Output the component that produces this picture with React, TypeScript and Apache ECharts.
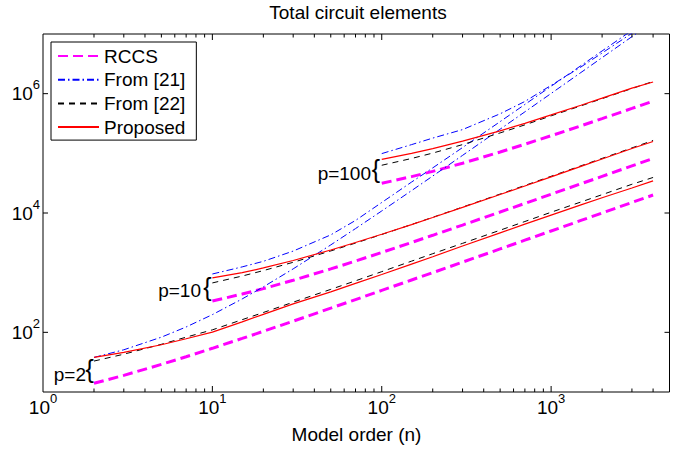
import React, { useEffect, useRef } from 'react';
import * as echarts from 'echarts';

const FONT = '"Liberation Sans", Arial, Helvetica, sans-serif';

// Model orders (n) for each pole-count group
const nP2 = [2, 3, 5, 7, 10, 15, 20, 30, 50, 70, 100, 150, 200, 300, 500, 700, 1000, 1500, 2000, 3000, 4000];
const nP10 = [10, 15, 20, 30, 50, 70, 100, 150, 200, 300, 500, 700, 1000, 1500, 2000, 3000, 4000];
const nP100 = [100, 150, 200, 300, 500, 700, 1000, 1500, 2000, 3000, 4000];

// RCCS
const rccsP2 = [14, 19, 29, 39, 54, 79, 104, 154, 254, 354, 504, 754, 1000, 1500, 2500, 3500, 5000, 7500, 10000, 15000, 20000];
const rccsP10 = [335, 438, 540, 745, 1155, 1565, 2180, 3205, 4230, 6280, 10380, 14480, 20630, 30880, 41130, 61630, 82130];
const rccsP100 = [31500, 40700, 49900, 68300, 105200, 142000, 197300, 289400, 381500, 565700, 750000];

// From [21]
const ref21P2 = [38, 51, 83, 123, 198, 363, 578, 1158, 2918, 5478, 10820, 23720, 41620, 92420, 254000, 495600, 1008000, 2262000, 4016000, 9024000, 16030000];
const ref21P10 = [950, 1250, 1550, 2300, 4300, 7500, 15000, 33000, 57000, 125000, 340000, 660000, 1330000, 2950000, 5200000, 11500000, 20000000];
const ref21P100 = [99000, 140000, 180000, 250000, 460000, 740000, 1380000, 2800000, 4800000, 10300000, 18000000];

// From [22]
const ref22P2 = [33, 43, 63, 83, 110, 163, 215, 320, 525, 730, 1040, 1560, 2080, 3100, 5150, 7200, 10300, 15300, 20300, 30300, 39400];
const ref22P10 = [673, 878, 1083, 1493, 2313, 3133, 4363, 6413, 8463, 12560, 20760, 28960, 41260, 61760, 82260, 123300, 164300];
const ref22P100 = [63100, 82000, 101000, 140000, 220000, 300000, 425000, 625000, 825000, 1220000, 1600000];

// Proposed
const propP2 = [38, 46, 62, 78, 101, 150, 200, 300, 476, 660, 931, 1390, 1850, 2800, 4650, 6500, 9200, 13700, 18000, 26200, 34500];
const propP10 = [816, 1000, 1200, 1600, 2400, 3200, 4400, 6400, 8400, 12400, 20400, 28400, 40400, 60400, 80400, 120400, 158000];
const propP100 = [79400, 100000, 120000, 160000, 238000, 318000, 440000, 640000, 840000, 1240000, 1570000];

// Axis ticks
const xMajorTicks = [10, 100, 1000];
const xMinorTicks = [2, 3, 4, 5, 6, 7, 8, 9, 20, 30, 40, 50, 60, 70, 80, 90, 200, 300, 400, 500, 600, 700, 800, 900, 2000, 3000, 4000];
const yMajorTicks = [100, 10000, 1000000];

const X_MIN = 1;
const X_MAX = 5000;
const Y_MIN = 10;
const Y_MAX = 10000000;

const legendNames = ['RCCS', 'From [21]', 'From [22]', 'Proposed'];

const styles: Record<string, { color: string; width: number; type: any }> = {
  'RCCS': { color: '#ff00ff', width: 3, type: [10, 5] },
  'From [21]': { color: '#0000ff', width: 1, type: [7, 3, 1.5, 3] },
  'From [22]': { color: '#000000', width: 1, type: [6, 5] },
  'Proposed': { color: '#ff0000', width: 1.2, type: 'solid' },
};

function pairs(ns: number[], vs: number[]) {
  return ns.map((n, i) => [n, vs[i]]);
}

function lineSeries(name: string, ns: number[], vs: number[], z: number) {
  const s = styles[name];
  return {
    type: 'line',
    name,
    data: pairs(ns, vs),
    symbol: 'none',
    showSymbol: false,
    silent: true,
    z,
    lineStyle: { color: s.color, width: s.width, type: s.type },
    itemStyle: { color: s.color },
  };
}

export default function App() {
  const ref = useRef<HTMLDivElement>(null);

  useEffect(() => {
    if (!ref.current) return;
    const chart = echarts.init(ref.current, null, { renderer: 'svg' });

    const groups = [
      { ns: nP2, r: rccsP2, a: ref21P2, b: ref22P2, p: propP2 },
      { ns: nP10, r: rccsP10, a: ref21P10, b: ref22P10, p: propP10 },
      { ns: nP100, r: rccsP100, a: ref21P100, b: ref22P100, p: propP100 },
    ];
    const series: any[] = [];
    groups.forEach((g) => {
      series.push(lineSeries('RCCS', g.ns, g.r, 2));
      series.push(lineSeries('From [21]', g.ns, g.a, 3));
      series.push(lineSeries('From [22]', g.ns, g.b, 4));
      series.push(lineSeries('Proposed', g.ns, g.p, 5));
    });

    const xTickData = [
      ...xMajorTicks.map((v) => [v, Y_MIN, 1]),
      ...xMinorTicks.map((v) => [v, Y_MIN, 0]),
    ];
    series.push({
      type: 'custom',
      silent: true,
      clip: false,
      z: 20,
      dimensions: ['x', 'y', 'major'],
      encode: { x: 0, y: 1 },
      data: xTickData,
      renderItem: (params: any, api: any) => {
        const v = api.value(0);
        const major = api.value(2);
        const b = api.coord([v, Y_MIN]);
        const t = api.coord([v, Y_MAX]);
        const len = major ? 6 : 3.5;
        return {
          type: 'group',
          children: [
            { type: 'line', shape: { x1: b[0], y1: b[1], x2: b[0], y2: b[1] - len }, style: { stroke: '#000', lineWidth: 1 } },
            { type: 'line', shape: { x1: t[0], y1: t[1], x2: t[0], y2: t[1] + len }, style: { stroke: '#000', lineWidth: 1 } },
          ],
        };
      },
    });
    series.push({
      type: 'custom',
      silent: true,
      clip: false,
      z: 20,
      dimensions: ['x', 'y'],
      encode: { x: 0, y: 1 },
      data: yMajorTicks.map((v) => [X_MIN, v]),
      renderItem: (params: any, api: any) => {
        const v = api.value(1);
        const l = api.coord([X_MIN, v]);
        const r = api.coord([X_MAX, v]);
        const len = 5;
        return {
          type: 'group',
          children: [
            { type: 'line', shape: { x1: l[0], y1: l[1], x2: l[0] + len, y2: l[1] }, style: { stroke: '#000', lineWidth: 1 } },
            { type: 'line', shape: { x1: r[0], y1: r[1], x2: r[0] - len, y2: r[1] }, style: { stroke: '#000', lineWidth: 1 } },
          ],
        };
      },
    });

    const rich = {
      b: { fontSize: 19, lineHeight: 19, fontFamily: FONT, color: '#000', verticalAlign: 'bottom' },
      s: { fontSize: 13, lineHeight: 13, fontFamily: FONT, color: '#000', verticalAlign: 'bottom', padding: [0, 0, 12, 0] },
    };

    const txt = (text: string, x: number, y: number, size: number, align: string) => ({
      type: 'text',
      x,
      y,
      silent: true,
      z: 30,
      style: {
        text,
        fontSize: size,
        fontFamily: FONT,
        fill: '#000',
        align,
        verticalAlign: 'middle',
      },
    });

    chart.setOption({
      animation: false,
      backgroundColor: '#fff',
      grid: {
        left: 43,
        right: 13.5,
        top: 34,
        bottom: 59,
        show: true,
        borderColor: '#000',
        borderWidth: 1,
        backgroundColor: 'transparent',
        containLabel: false,
      },
      xAxis: {
        type: 'log',
        logBase: 10,
        min: X_MIN,
        max: X_MAX,
        axisLine: { show: false },
        axisTick: { show: false },
        splitLine: { show: false },
        minorTick: { show: false },
        axisLabel: {
          margin: 6,
          formatter: (v: number) => {
            const e = Math.log10(v);
            const r = Math.round(e);
            if (Math.abs(e - r) > 1e-6) return '';
            return '{b|10}{s|' + r + '}';
          },
          rich,
        },
      },
      yAxis: {
        type: 'log',
        logBase: 10,
        min: Y_MIN,
        max: Y_MAX,
        axisLine: { show: false },
        axisTick: { show: false },
        splitLine: { show: false },
        minorTick: { show: false },
        axisLabel: {
          margin: 3,
          formatter: (v: number) => {
            const e = Math.log10(v);
            const r = Math.round(e);
            if (Math.abs(e - r) > 1e-6) return '';
            if (r % 2 !== 0 || r < 2 || r > 6) return '';
            return '{b|10}{s|' + r + '}';
          },
          rich,
        },
      },
      legend: {
        data: legendNames,
        orient: 'vertical',
        left: 51,
        top: 42,
        itemWidth: 41,
        itemHeight: 14,
        itemGap: 3.7,
        padding: [4, 11, 3, 6],
        borderColor: '#000',
        borderWidth: 1,
        backgroundColor: '#fff',
        selectedMode: false,
        itemStyle: { opacity: 0 },
        textStyle: { fontSize: 19, fontFamily: FONT, color: '#000', lineHeight: 20 },
        z: 40,
      },
      graphic: [
        txt('Total circuit elements', 358, 12, 19, 'center'),
        txt('Model order (n)', 356.5, 434, 19, 'center'),
        txt('p=2', 86, 374, 19, 'right'),
        txt('{', 89.7, 369, 25, 'center'),
        txt('p=10', 201, 290, 19, 'right'),
        txt('{', 207.5, 287, 25, 'center'),
        txt('p=100', 371, 173, 19, 'right'),
        txt('{', 375.8, 168.6, 25, 'center'),
      ],
      series,
    });

    return () => {
      chart.dispose();
    };
  }, []);

  return (
    <div
      ref={ref}
      style={{ position: 'absolute', left: 0, top: 0, width: 683, height: 451, background: '#fff' }}
    />
  );
}
